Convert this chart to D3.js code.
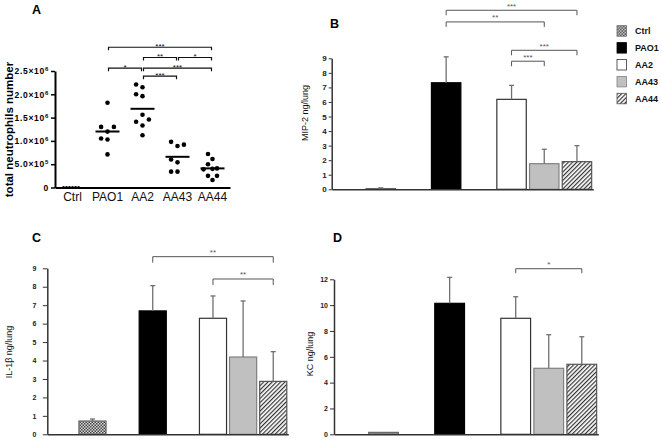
<!DOCTYPE html>
<html>
<head>
<meta charset="utf-8">
<script src="https://cdn.jsdelivr.net/npm/d3@7"></script>
<style>
  body { margin: 0; background: #fff; }
  text { font-family: "Liberation Sans", Arial, sans-serif; }
</style>
</head>
<body>
<div id="chart"></div>
<script>
const width = 661
const height = 439
const narrow = '"Liberation Sans Narrow", "Liberation Sans", Arial, sans-serif'

const groups = ["Ctrl", "PAO1", "AA2", "AA43", "AA44"]

// panel A: neutrophils per mouse
const ctrlCounts = [0, 0, 0, 0, 0, 0]
const pao1Counts = [1.82e6, 1.20e6, 1.30e6, 1.30e6, 1.03e6, 1.05e6, 0.71e6]
const aa2Counts = [2.15e6, 1.96e6, 2.00e6, 2.21e6, 1.56e6, 1.33e6, 1.41e6, 1.46e6, 1.12e6]
const aa43Counts = [0.89e6, 0.98e6, 0.92e6, 0.54e6, 0.60e6, 0.34e6, 0.34e6]
const aa44Counts = [0.61e6, 0.40e6, 0.16e6, 0.50e6, 0.41e6, 0.39e6, 0.25e6, 0.25e6, 0.72e6]
const countTicks = [0, 5e5, 1e6, 1.5e6, 2e6, 2.5e6]
const countBrackets = [
  ["PAO1", "AA44", "***", 3.01e6],
  ["AA2", "AA43", "**", 2.79e6],
  ["AA43", "AA44", "*", 2.79e6],
  ["PAO1", "AA2", "*", 2.56e6],
  ["AA2", "AA44", "***", 2.56e6],
  ["AA2", "AA43", "***", 2.39e6]
]

// panel B: MIP-2
const mip2Mean = [0.05, 7.32, 6.18, 1.76, 1.90]
const mip2Sd = [0.05, 1.78, 0.96, 0.99, 1.10]
const mip2Ticks = [0, 1, 2, 3, 4, 5, 6, 7, 8, 9]
const mip2Brackets = [
  ["PAO1", "AA44", "***", 12.3],
  ["PAO1", "AA43", "**", 11.5],
  ["AA2", "AA44", "***", 9.55],
  ["AA2", "AA43", "***", 8.8]
]

// panel C: IL-1beta
const il1bMean = [0.72, 6.69, 6.29, 4.19, 2.87]
const il1bSd = [0.11, 1.37, 1.21, 3.04, 1.61]
const il1bTicks = [0, 1, 2, 3, 4, 5, 6, 7, 8, 9]
const il1bBrackets = [
  ["PAO1", "AA44", "**", 9.63],
  ["AA2", "AA44", "**", 8.42]
]

// panel D: KC
const kcMean = [0.15, 10.14, 8.98, 5.11, 5.42]
const kcSd = [0, 2.01, 1.67, 2.60, 2.13]
const kcTicks = [0, 2, 4, 6, 8, 10, 12]
const kcBrackets = [["AA2", "AA44", "*", 12.82]]

// bar slots: blank columns between Ctrl, PAO1 and the mutants
const barSlots = ["s0", "Ctrl", "s2", "PAO1", "s4", "AA2", "AA43", "AA44"]

const svg = d3.select("#chart")
    .append("svg")
    .attr("width", width)
    .attr("height", height)
    .style("background-color", "#fff")

const defs = svg.append("defs")
const checker = defs.append("pattern").attr("id", "checker")
    .attr("width", 3).attr("height", 3).attr("patternUnits", "userSpaceOnUse")
checker.append("rect").attr("width", 3).attr("height", 3).attr("fill", "#d8d8d8")
checker.append("rect").attr("width", 1.5).attr("height", 1.5).attr("fill", "#444")
checker.append("rect").attr("x", 1.5).attr("y", 1.5).attr("width", 1.5).attr("height", 1.5).attr("fill", "#444")
const hatch = defs.append("pattern").attr("id", "hatch")
    .attr("width", 3).attr("height", 3).attr("patternUnits", "userSpaceOnUse")
    .attr("patternTransform", "rotate(45)")
hatch.append("rect").attr("width", 3).attr("height", 3).attr("fill", "#fff")
hatch.append("line").attr("x1", 0.6).attr("x2", 0.6).attr("y1", 0).attr("y2", 3)
    .attr("stroke", "#333").attr("stroke-width", 1.2)

const fills = { Ctrl: "url(#checker)", PAO1: "#000", AA2: "#fff", AA43: "#c0c0c0", AA44: "url(#hatch)" }
const strokes = { Ctrl: "#666", PAO1: "#000", AA2: "#333", AA43: "#808080", AA44: "#555" }

function bracket(g, x1, x2, y, label, o) {
  g.append("path")
      .attr("d", `M${x1},${y + o.tick}V${y}H${x2}V${y + o.tick}`)
      .attr("fill", "none").attr("stroke", o.color).attr("stroke-width", o.lw)
  g.append("text")
      .attr("x", (x1 + x2) / 2).attr("y", y + o.dy)
      .attr("text-anchor", "middle").attr("font-size", 8).attr("fill", o.color)
      .text(label)
}

// ---------- panel A ----------
const xA = d3.scaleBand().domain(groups).range([55, 230])
const yA = d3.scaleLinear().domain([0, 2.5e6]).range([187.5, 71])
const gA = svg.append("g")

// simple beeswarm: take the first free column around the centre
function swarm(values, minGap) {
  const placed = []
  const order = [0, -1, 1, -2, 2, -3, 3, -4, 4]
  return values.map(v => {
    const py = yA(v)
    const slot = order.find(s => !placed.some(p => p.slot === s && Math.abs(p.py - py) < minGap))
    placed.push({ py, slot })
    return { value: v, slot }
  })
}

const countSets = [ctrlCounts, pao1Counts, aa2Counts, aa43Counts, aa44Counts]
countSets.forEach((vals, i) => {
  const key = groups[i]
  const cx = xA(key) + xA.bandwidth() / 2
  const pts = swarm(vals, 5.2)
  const maxSlot = d3.max(pts, p => Math.abs(p.slot)) || 1
  const step = Math.min(6.4, 9 / maxSlot)
  gA.append("g").selectAll("circle")
      .data(pts)
      .join("circle")
      .attr("cx", p => cx + p.slot * step)
      .attr("cy", p => yA(p.value))
      .attr("r", p => p.value === 0 ? 1.6 : 2.3)
      .attr("fill", "#000")
  const m = d3.mean(vals)
  if (m > 0) {
    gA.append("line")
        .attr("x1", cx - 12).attr("x2", cx + 12)
        .attr("y1", yA(m)).attr("y2", yA(m))
        .attr("stroke", "#000").attr("stroke-width", 2)
  }
})

gA.append("g")
    .attr("transform", "translate(55,0)")
    .call(d3.axisLeft(yA).tickValues(countTicks).tickSize(4).tickSizeOuter(0).tickPadding(2))
    .call(g => {
      g.select(".domain").attr("stroke", "#000").attr("stroke-width", 2)
      g.selectAll(".tick line").attr("stroke-width", 1.5)
      g.selectAll(".tick text")
          .attr("font-size", 8.5).attr("font-weight", "bold").attr("letter-spacing", 0.7).attr("fill", "#000")
          .each(function (d) {
            const t = d3.select(this).text("")
            if (d === 0) { t.text("0"); return }
            const e = Math.floor(Math.log10(d))
            t.append("tspan").text((d / 10 ** e).toFixed(1) + "×10")
            t.append("tspan").attr("dy", "-0.5em").attr("font-size", 6).text(e)
          })
    })

gA.append("g")
    .attr("transform", "translate(0,187.5)")
    .call(d3.axisBottom(xA).tickSize(0).tickSizeOuter(0).tickPadding(4.5))
    .call(g => {
      g.select(".domain").attr("stroke", "#000").attr("stroke-width", 2)
      g.selectAll(".tick text").attr("font-size", 12).attr("font-family", narrow).attr("fill", "#111")
    })

countBrackets.forEach(([a, b, label, v]) => {
  bracket(gA, xA(a) + xA.bandwidth() / 2 + 1, xA(b) + xA.bandwidth() / 2 - 1, yA(v), label,
      { tick: 3, color: "#111", lw: 1.2, dy: 2 })
})

gA.append("text")
    .attr("transform", "translate(8.5,129.5) rotate(-90)")
    .attr("text-anchor", "middle").attr("dy", "0.35em")
    .attr("font-size", 11.5).attr("font-weight", "bold")
    .text("total neutrophils number")

gA.append("text").attr("x", 32).attr("y", 13.5)
    .attr("font-size", 12.5).attr("font-weight", "bold").text("A")

// ---------- bar panels ----------
function barPanel(o) {
  const x = d3.scaleBand().domain(barSlots).range(o.xRange).paddingInner(0.1).paddingOuter(0.05)
  const y = d3.scaleLinear().domain([0, o.yMax]).range(o.yRange)
  const g = svg.append("g")
  const rows = groups.map((k, i) => ({ k, mean: o.mean[i], sd: o.sd[i] }))
  const cx = k => x(k) + x.bandwidth() / 2

  g.selectAll("rect.bar")
      .data(rows)
      .join("rect")
      .attr("class", "bar")
      .attr("x", d => x(d.k))
      .attr("width", x.bandwidth())
      .attr("y", d => y(d.mean))
      .attr("height", d => y(0) - y(d.mean))
      .attr("fill", d => fills[d.k])
      .attr("stroke", d => strokes[d.k])
      .attr("stroke-width", 1.2)

  const err = g.selectAll("g.err")
      .data(rows.filter(d => d.sd > 0))
      .join("g").attr("class", "err")
      .attr("stroke", "#707070").attr("stroke-width", 1.3)
  err.append("line")
      .attr("x1", d => cx(d.k)).attr("x2", d => cx(d.k))
      .attr("y1", d => y(d.mean)).attr("y2", d => y(d.mean + d.sd))
  err.append("line")
      .attr("x1", d => cx(d.k) - 2.5).attr("x2", d => cx(d.k) + 2.5)
      .attr("y1", d => y(d.mean + d.sd)).attr("y2", d => y(d.mean + d.sd))

  g.append("g")
      .attr("transform", `translate(${o.xRange[0]},0)`)
      .call(d3.axisLeft(y).tickValues(o.ticks).tickSize(o.tickSize).tickSizeOuter(0).tickPadding(o.tickPad))
      .call(a => {
        a.select(".domain").attr("stroke", "#333").attr("stroke-width", 1.5)
        a.selectAll(".tick line").attr("stroke", "#333")
        a.selectAll(".tick text").attr("font-size", o.tickFont).attr("font-weight", "bold").attr("fill", "#222")
      })
  g.append("g")
      .attr("transform", `translate(0,${o.yRange[0]})`)
      .call(d3.axisBottom(x).tickValues([]).tickSizeOuter(0))
      .call(a => a.select(".domain").attr("stroke", "#333").attr("stroke-width", 1.5))

  o.brackets.forEach(([a, b, label, v]) => {
    bracket(g, cx(a), cx(b), y(v), label, { tick: o.bTick, color: "#555", lw: 1, dy: -1.5 })
  })

  g.append("text")
      .attr("transform", `translate(${o.labelPos[0]},${o.labelPos[1]}) rotate(-90)`)
      .attr("text-anchor", "middle").attr("dy", "0.35em")
      .attr("font-size", 9).attr("fill", "#111")
      .text(o.yLabel)
  g.append("text").attr("x", o.letterPos[0]).attr("y", o.letterPos[1])
      .attr("font-size", 12.5).attr("font-weight", "bold").text(o.letter)
}

barPanel({
  mean: mip2Mean, sd: mip2Sd, ticks: mip2Ticks, brackets: mip2Brackets, yMax: 9,
  xRange: [331.7, 593.3], yRange: [189.3, 58.3], tickSize: 3, tickPad: 2, tickFont: 8, bTick: 5,
  yLabel: "MIP-2 ng/lung", labelPos: [305, 113], letter: "B", letterPos: [330, 28.3]
})
barPanel({
  mean: il1bMean, sd: il1bSd, ticks: il1bTicks, brackets: il1bBrackets, yMax: 9,
  xRange: [47.3, 288.3], yRange: [434.3, 268.3], tickSize: 4.5, tickPad: 6.5, tickFont: 7, bTick: 6,
  yLabel: "IL-1β ng/lung", labelPos: [8.5, 352], letter: "C", letterPos: [32, 241.7]
})
barPanel({
  mean: kcMean, sd: kcSd, ticks: kcTicks, brackets: kcBrackets, yMax: 12,
  xRange: [334, 598.3], yRange: [434.3, 279.3], tickSize: 4, tickPad: 2, tickFont: 7, bTick: 4.5,
  yLabel: "KC ng/lung", labelPos: [310, 354], letter: "D", letterPos: [333, 241.7]
})

// ---------- legend ----------
const legend = svg.append("g").attr("transform", "translate(617,25.7)")
const item = legend.selectAll("g")
    .data(groups)
    .join("g")
    .attr("transform", (d, i) => `translate(0,${i * 16.9})`)
item.append("rect")
    .attr("width", 9.5).attr("height", 10.5)
    .attr("fill", d => fills[d]).attr("stroke", d => strokes[d]).attr("stroke-width", 0.8)
item.append("text")
    .attr("x", 18).attr("y", 8.8)
    .attr("font-size", 9).attr("font-weight", "bold").attr("fill", "#111")
    .text(d => d)
</script>
</body>
</html>
